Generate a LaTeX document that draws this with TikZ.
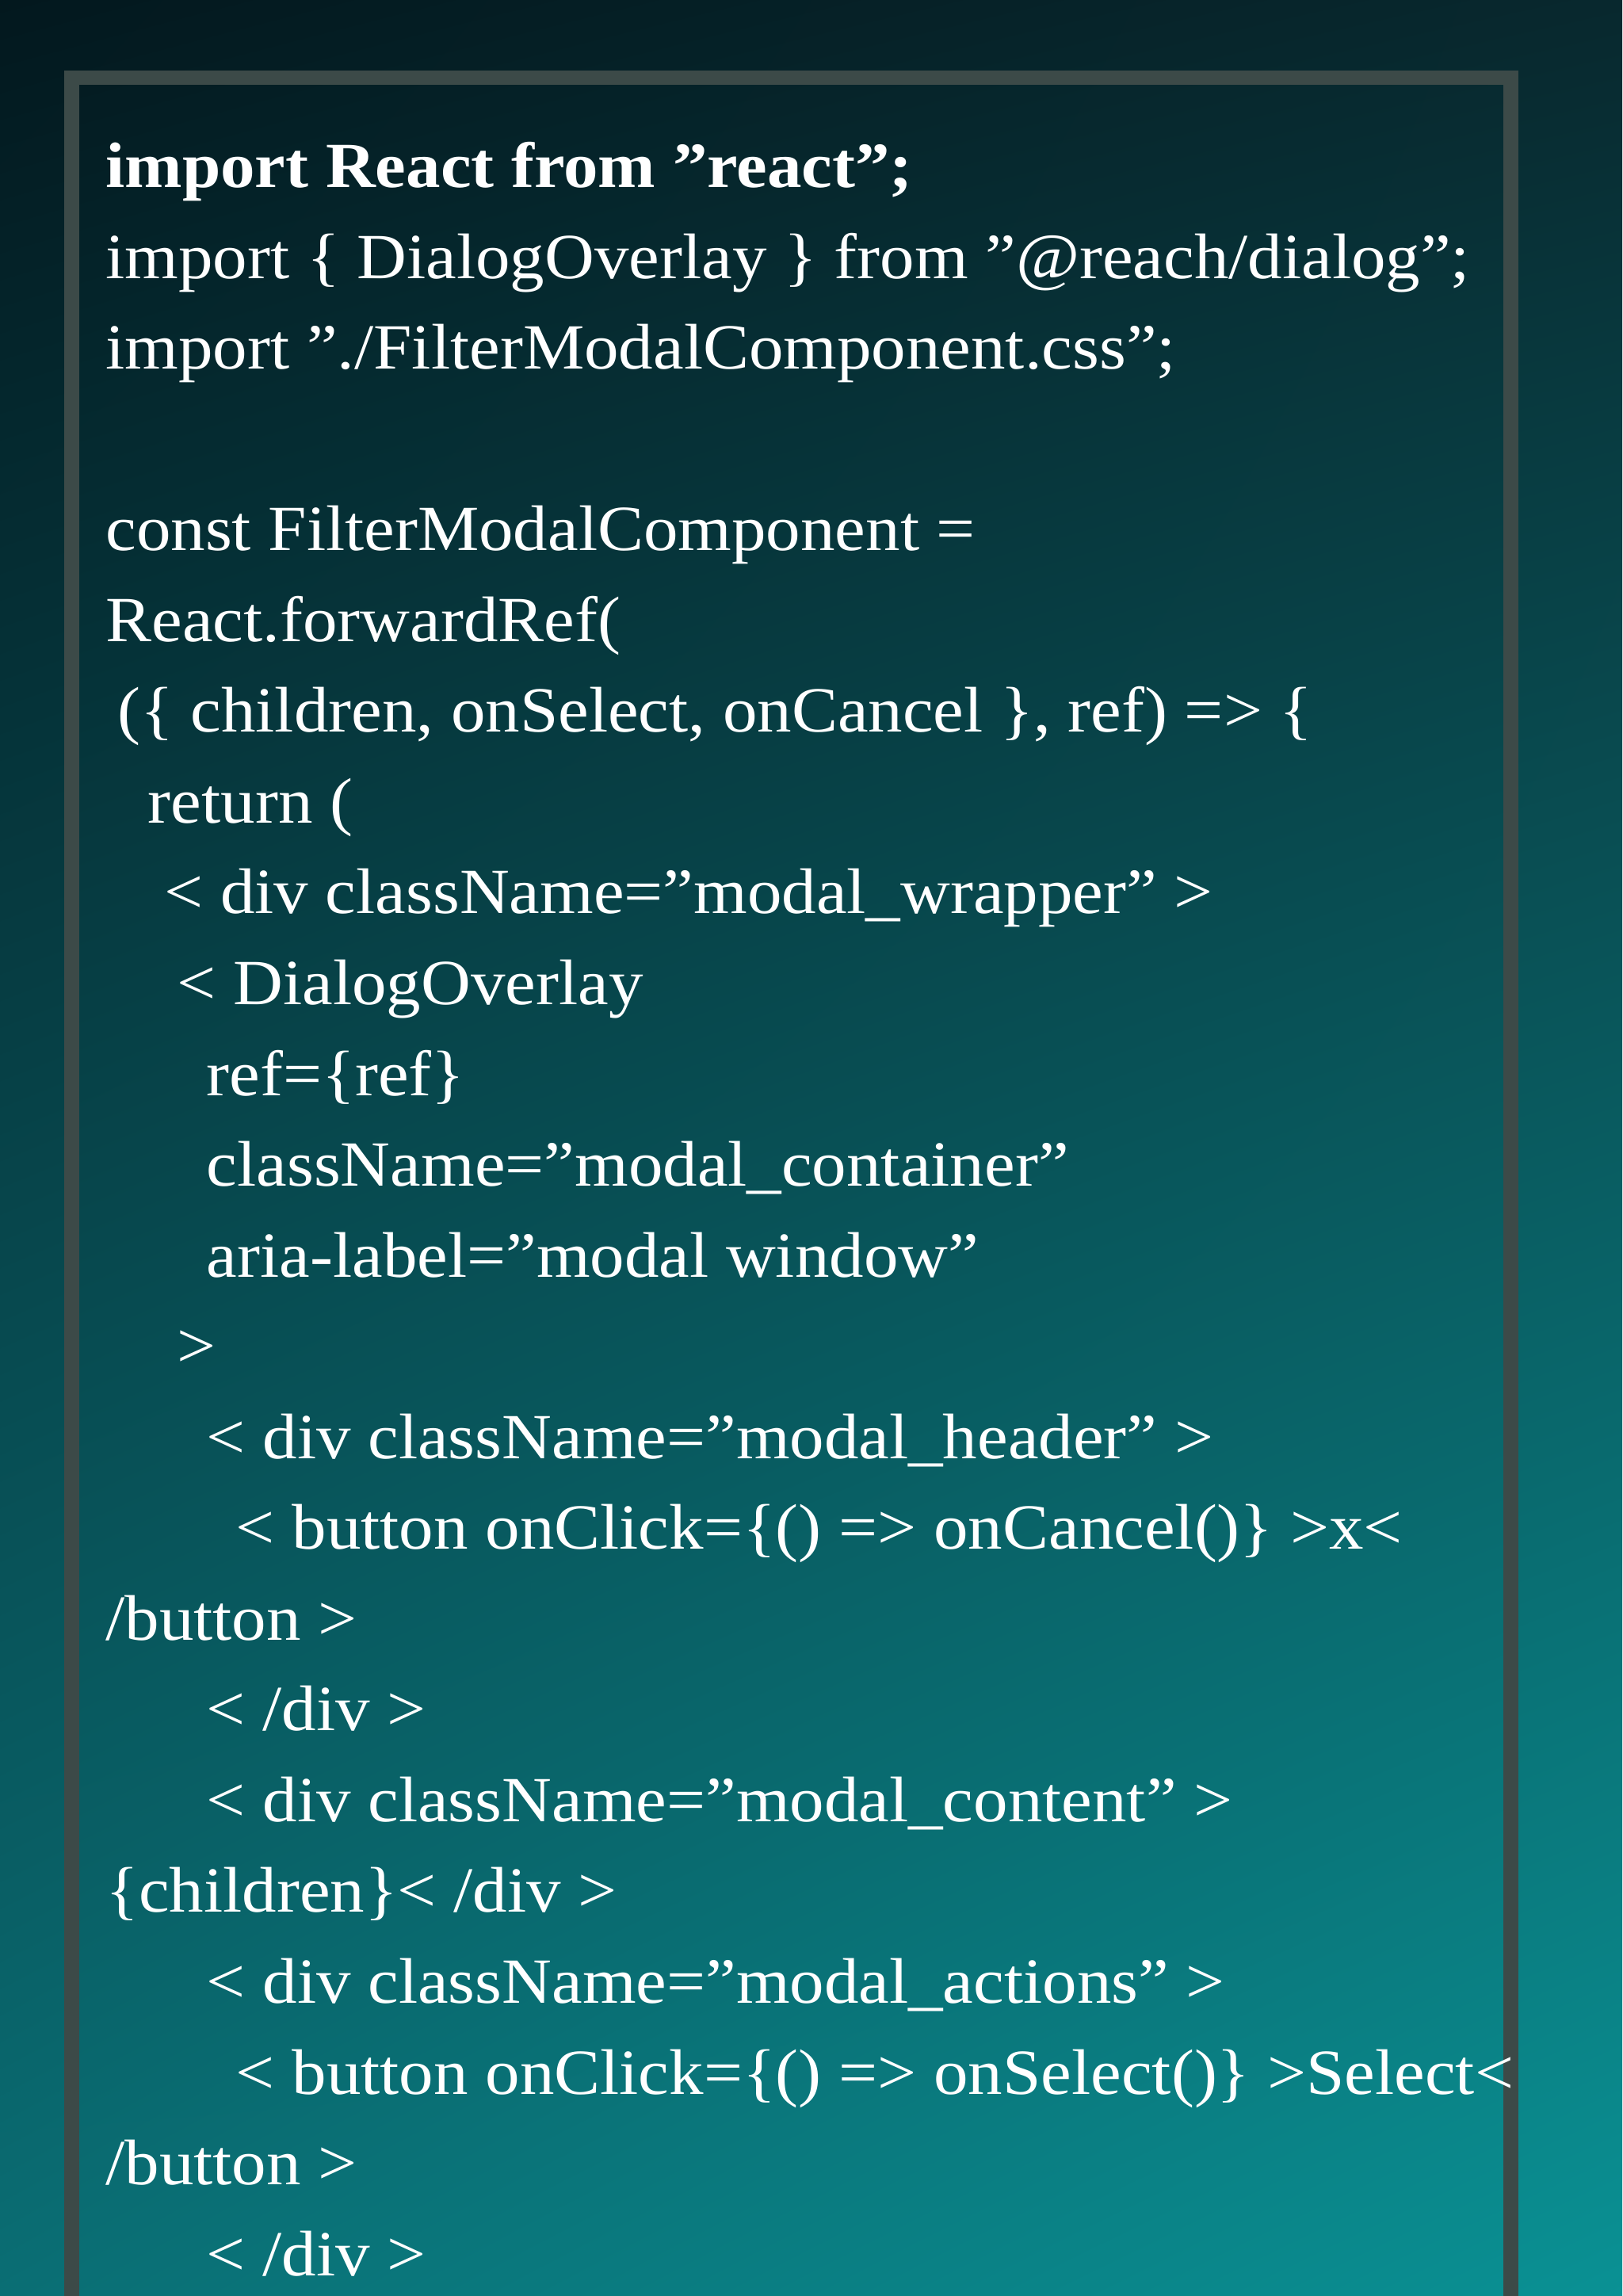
\documentclass[tikz,border=0pt]{standalone}
\usepackage{fontspec}
\usetikzlibrary{shadings}
\setmainfont[FakeStretch=1.07]{Liberation Serif}
\newcommand\qq{\char34\relax}
\definecolor{frm}{HTML}{3C4A48}
\definecolor{cul}{RGB}{3,24,30}
\definecolor{cur}{RGB}{8,40,46}
\definecolor{cll}{RGB}{10,110,116}
\definecolor{clr}{RGB}{10,145,148}
\begin{document}
\begin{tikzpicture}[x=1pt,y=1pt,
  ln/.style={anchor=base west,text=white,inner sep=0pt,font=\fontsize{44}{52}\selectfont}]
\useasboundingbox (0,0) rectangle (1108,-1568);
\shade[upper left=cul,upper right=cur,lower left=cll,lower right=clr]
 (0,0) rectangle (1108,-1568);
\draw[frm,line width=10pt] (49,-1590) -- (49,-53) -- (1032,-53) -- (1032,-1590);
\node[ln,font=\fontsize{44}{52}\selectfont\bfseries] (l1) at (72,-128) {import React from \qq react\qq;};
\node[ln] (l2) at (72,-190) {import \{ DialogOverlay \} from \qq @reach/dialog\qq;};
\node[ln] (l3) at (72,-252) {import \qq./FilterModalComponent.css\qq;};
\node[ln] (l4) at (72,-376) {const FilterModalComponent =};
\node[ln] (l5) at (72,-438) {React.forwardRef(};
\node[ln] (l6) at (80,-500) {(\{ children, onSelect, onCancel \}, ref) => \{};
\node[ln] (l7) at (101,-562) {return (};
\node[ln] (l8) at (112,-624) {< div className=\qq modal\_wrapper\qq{} >};
\node[ln] (l9) at (121,-686) {< DialogOverlay};
\node[ln] (l10) at (141,-748) {ref=\{ref\}};
\node[ln] (l11) at (141,-810) {className=\qq modal\_container\qq};
\node[ln] (l12) at (141,-872) {aria-label=\qq modal window\qq};
\node[ln] (l13) at (121,-934) {>};
\node[ln] (l14) at (141,-996) {< div className=\qq modal\_header\qq{} >};
\node[ln] (l15) at (161,-1058) {< button onClick=\{() => onCancel()\} >x<};
\node[ln] (l16) at (72,-1120) {/button >};
\node[ln] (l17) at (141,-1182) {< /div >};
\node[ln] (l18) at (141,-1244) {< div className=\qq modal\_content\qq{} >};
\node[ln] (l19) at (72,-1306) {\{children\}< /div >};
\node[ln] (l20) at (141,-1368) {< div className=\qq modal\_actions\qq{} >};
\node[ln] (l21) at (161,-1430) {< button onClick=\{() => onSelect()\} >Select<};
\node[ln] (l22) at (72,-1492) {/button >};
\node[ln] (l23) at (141,-1554) {< /div >};
\end{tikzpicture}
\end{document}
